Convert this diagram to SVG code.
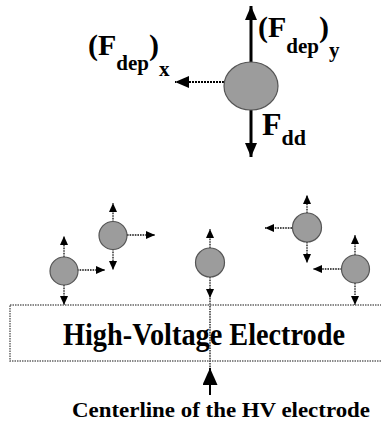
<svg xmlns="http://www.w3.org/2000/svg" width="381" height="423" viewBox="0 0 381 423">
<style>
.lbl{font-family:"Liberation Serif","Times New Roman",serif;font-weight:bold;fill:#000}
.big{stroke:#000;stroke-width:3;fill:none}
.bigd{stroke:#000;stroke-width:2.2;stroke-dasharray:2 1;fill:none}
.sm{stroke:#111;stroke-width:1.3;stroke-dasharray:1.6 1;fill:none}
.pt{fill:#9c9c9c;stroke:#555;stroke-width:1.2}
.box{fill:none;stroke:#666;stroke-width:1.5;stroke-dasharray:1.5 1}
</style>
<defs>
<marker id="hb" markerUnits="userSpaceOnUse" markerWidth="14" markerHeight="12" refX="14" refY="6" orient="auto"><path d="M0,0 L14,6 L0,12 Z" fill="#000"/></marker>
<marker id="hs" markerUnits="userSpaceOnUse" markerWidth="9" markerHeight="8" refX="9" refY="4" orient="auto"><path d="M0,0 L9,4 L0,8 Z" fill="#000"/></marker>
<marker id="hc" markerUnits="userSpaceOnUse" markerWidth="17" markerHeight="15" refX="17" refY="7.5" orient="auto"><path d="M0,0 L17,7.5 L0,15 Z" fill="#000"/></marker>
</defs>

<g id="connectors">
<!-- top particle forces -->
<line class="big" x1="251" y1="62" x2="251" y2="6" marker-end="url(#hb)"/>
<line class="big" x1="251" y1="110" x2="251" y2="157" marker-end="url(#hb)"/>
<line class="bigd" x1="224" y1="82" x2="175" y2="82" marker-end="url(#hb)"/>
<!-- particle A -->
<line class="sm" x1="64" y1="257" x2="64" y2="236" marker-end="url(#hs)"/>
<line class="sm" x1="64" y1="285" x2="64" y2="305" marker-end="url(#hs)"/>
<line class="sm" x1="77" y1="270" x2="105" y2="270" marker-end="url(#hs)"/>
<!-- particle B -->
<line class="sm" x1="113" y1="222" x2="113" y2="203" marker-end="url(#hs)"/>
<line class="sm" x1="113" y1="249" x2="113" y2="270" marker-end="url(#hs)"/>
<line class="sm" x1="127" y1="235" x2="155" y2="235" marker-end="url(#hs)"/>
<!-- particle C -->
<line class="sm" x1="210" y1="248" x2="210" y2="229" marker-end="url(#hs)"/>
<line class="sm" x1="210" y1="277" x2="210" y2="298" marker-end="url(#hs)"/>
<!-- particle D -->
<line class="sm" x1="307" y1="213" x2="307" y2="195" marker-end="url(#hs)"/>
<line class="sm" x1="307" y1="242" x2="307" y2="263" marker-end="url(#hs)"/>
<line class="sm" x1="292" y1="228" x2="265" y2="228" marker-end="url(#hs)"/>
<!-- particle E -->
<line class="sm" x1="355" y1="255" x2="355" y2="235" marker-end="url(#hs)"/>
<line class="sm" x1="355" y1="283" x2="355" y2="305" marker-end="url(#hs)"/>
<line class="sm" x1="342" y1="269" x2="313" y2="269" marker-end="url(#hs)"/>
<!-- centerline -->
<line class="sm" x1="210" y1="298" x2="210" y2="368"/>
<line stroke="#000" stroke-width="2" x1="210" y1="395" x2="210" y2="368" marker-end="url(#hc)"/>
</g>

<g id="particle-top">
<ellipse class="pt" cx="251" cy="86" rx="27" ry="24"/>
</g>
<g id="particle-a"><circle class="pt" cx="64" cy="271" r="14"/></g>
<g id="particle-b"><circle class="pt" cx="113" cy="235.5" r="14"/></g>
<g id="particle-c"><circle class="pt" cx="210" cy="262.5" r="14.5"/></g>
<g id="particle-d"><circle class="pt" cx="307" cy="227.5" r="14.5"/></g>
<g id="particle-e"><circle class="pt" cx="355.5" cy="269" r="14"/></g>

<g id="label-fdepx">
<text class="lbl" x="88" y="55" font-size="30">(F<tspan font-size="21" dy="15">dep</tspan><tspan font-size="30" dy="-15">)</tspan><tspan font-size="21" dy="21">x</tspan></text>
</g>
<g id="label-fdepy">
<text class="lbl" x="258" y="37" font-size="30">(F<tspan font-size="21" dy="16">dep</tspan><tspan font-size="30" dy="-16">)</tspan><tspan font-size="21" dy="20">y</tspan></text>
</g>
<g id="label-fdd">
<text class="lbl" x="262" y="135" font-size="32">F<tspan font-size="22" dy="10">dd</tspan></text>
</g>

<g id="electrode">
<rect class="box" x="10" y="305" width="385" height="56"/>
<text class="lbl" x="63" y="345" font-size="32" textLength="282" lengthAdjust="spacingAndGlyphs">High-Voltage Electrode</text>
</g>

<g id="centerline-label">
<text class="lbl" x="72" y="417" font-size="22" textLength="298" lengthAdjust="spacingAndGlyphs">Centerline of the HV electrode</text>
</g>
</svg>
